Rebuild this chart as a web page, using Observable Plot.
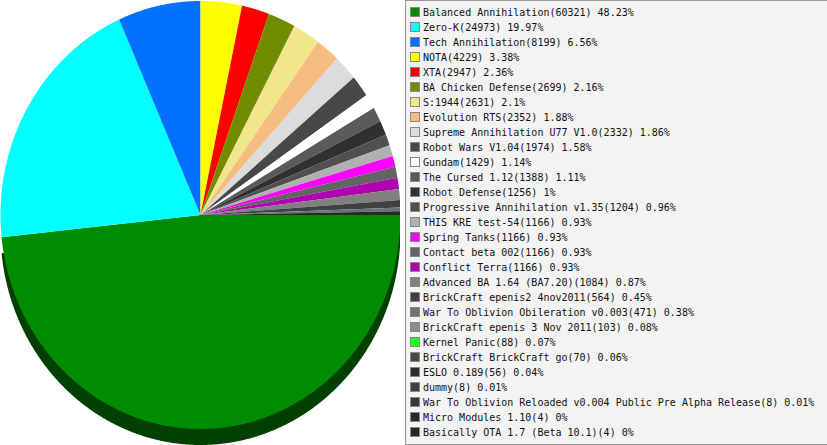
<!DOCTYPE html>
<html><head><meta charset="utf-8">
<script src="https://cdn.jsdelivr.net/npm/d3@7"></script>
<script src="https://cdn.jsdelivr.net/npm/@observablehq/plot@0.6"></script>
<style>
html,body{margin:0;padding:0;background:#fff;overflow:hidden}
#wrap{position:relative;width:827px;height:445px;overflow:hidden}
#legend{position:absolute;left:405px;top:0;width:430px;height:445px;box-sizing:border-box;background:#f3f3f3;border:1px solid #999;font:10px/15px "DejaVu Sans Mono",monospace;color:#111}
.row{position:absolute;left:17px;white-space:pre;height:15px}
.sw{position:absolute;left:4px;width:8px;height:8px;border:1px solid #888}
</style></head><body><div id="wrap"><div id="legend"></div></div>
<script>
const names=["Balanced Annihilation","Zero-K","Tech Annihilation","NOTA","XTA","BA Chicken Defense","S:1944","Evolution RTS","Supreme Annihilation U77 V1.0","Robot Wars V1.04","Gundam","The Cursed 1.12","Robot Defense","Progressive Annihilation v1.35","THIS KRE test-54","Spring Tanks","Contact beta 002","Conflict Terra","Advanced BA 1.64 (BA7.20)","BrickCraft epenis2 4nov2011","War To Oblivion Obileration v0.003","BrickCraft epenis 3 Nov 2011","Kernel Panic","BrickCraft BrickCraft go","ESLO 0.189","dummy","War To Oblivion Reloaded v0.004 Public Pre Alpha Release","Micro Modules 1.10","Basically OTA 1.7 (Beta 10.1)"];
const counts=[60321,24973,8199,4229,2947,2699,2631,2352,2332,1974,1429,1388,1256,1204,1166,1166,1166,1166,1084,564,471,103,88,70,56,8,8,4,4];
const percents=["48.23","19.97","6.56","3.38","2.36","2.16","2.1","1.88","1.86","1.58","1.14","1.11","1","0.96","0.93","0.93","0.93","0.93","0.87","0.45","0.38","0.08","0.07","0.06","0.04","0.01","0.01","0","0"];
const colors=["#008c00","#00ffff","#0070ff","#ffff00","#ff0000","#708c00","#f0e68c","#f5bd80","#dcdcdc","#484848","#ffffff","#5a5a5a","#303030","#505050","#b0b0b0","#ff00ff","#646464","#b000b0","#808080","#404040","#707070","#8c8c8c","#22ff22","#484848","#2a2a2a","#404040","#383838","#2a2a2a","#282828"];

const total=d3.sum(counts);
const depth=16/214;
const rad=Math.PI/180;
// The reference pie snaps each slice to whole degrees; the last slice closes the circle.
let cum=90;
const surface=[];
names.forEach((n,i)=>{
  const a0=cum;
  cum+=Math.round(counts[i]/total*360);
  const a1=i===names.length-1?450:cum;
  if(a1<=a0)return;
  surface.push({i,x:0,y:0});
  const steps=Math.ceil((a1-a0)/0.25);
  for(let s=0;s<=steps;s++){const a=(a0+(a1-a0)*s/steps)*rad;surface.push({i,x:Math.sin(a),y:Math.cos(a)});}
});
// side wall: the first slice's outline lowered by the pie thickness
const wall=surface.filter(d=>d.i===0).map(d=>({x:d.x,y:d.y-depth}));
const darkGreen="#004000";

const plot=Plot.plot({
  width:400,height:445,margin:0,
  style:{position:"absolute",left:"0",top:"0",background:"transparent"},
  x:{domain:[-1,1],range:[0,400],axis:null},
  y:{domain:[1,-1],range:[0.5,428.5],axis:null},
  marks:[
    Plot.line(wall,{x:"x",y:"y",fill:darkGreen,stroke:"none",curve:"linear-closed"}),
    Plot.line(surface,{x:"x",y:"y",z:"i",fill:d=>colors[d.i],stroke:"none",curve:"linear-closed"})
  ]
});
document.getElementById("wrap").prepend(plot);

const lg=document.getElementById("legend");
names.forEach((n,i)=>{
  const y=4+i*15;
  const sw=document.createElement("div");sw.className="sw";sw.style.top=(y+2)+"px";sw.style.background=colors[i];lg.append(sw);
  const r=document.createElement("div");r.className="row";r.style.top=y+"px";
  r.textContent=`${n}(${counts[i]}) ${percents[i]}%`;lg.append(r);
});
</script></body></html>
